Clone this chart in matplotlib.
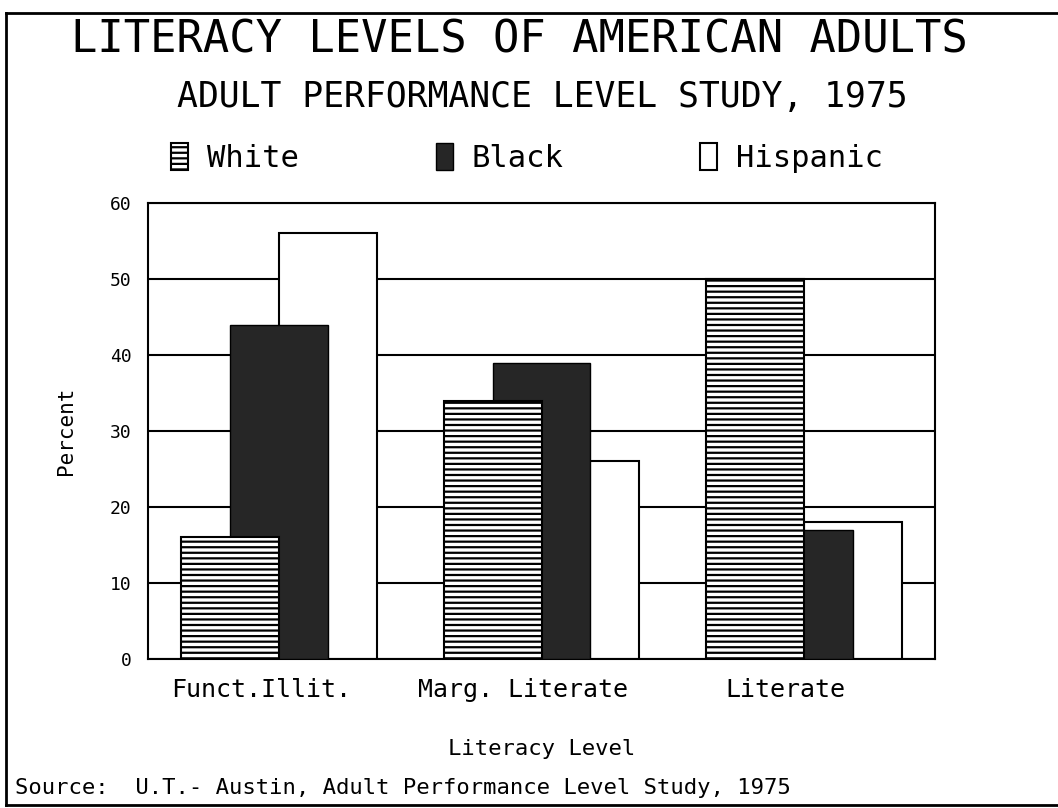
import matplotlib.pyplot as plt
from matplotlib.lines import Line2D
import numpy as np

categories = ['Funct.Illit.', 'Marg. Literate', 'Literate']
groups = ['White', 'Black', 'Hispanic']
white = [16, 34, 50]
black = [44, 39, 17]
hispanic = [56, 26, 18]
yticks = [0, 10, 20, 30, 40, 50, 60]

plt.rcParams['font.family'] = 'DejaVu Sans Mono'
plt.rcParams['hatch.linewidth'] = 1.6
plt.rcParams['hatch.color'] = 'black'

fig = plt.figure(figsize=(10.58, 8.08), dpi=100)
ax = fig.add_axes([148 / 1058, 1 - 659 / 808, 787 / 1058, 456 / 808])

x = np.arange(len(categories))
w = 0.373
off = 0.186

# draw order: Hispanic at the back, then Black, then White on top
b_h = ax.bar(x + off, hispanic, w, color='white', edgecolor='black', linewidth=1.5, zorder=2)
b_b = ax.bar(x, black, w, color='#262626', edgecolor='black', linewidth=1.0, zorder=3)
b_w = ax.bar(x - off, white, w, color='white', edgecolor='black', linewidth=1.5,
             hatch='---', zorder=4)

ax.set_xlim(-0.5, 2.5)
ax.set_ylim(0, 60)
ax.set_yticks(yticks)
ax.set_yticklabels([str(t) for t in yticks], fontsize=13)
ax.yaxis.grid(True, color='black', linewidth=1.5, zorder=0)
ax.set_axisbelow(True)
ax.tick_params(axis='y', length=0, pad=12)
ax.tick_params(axis='x', length=0, pad=14)
ax.set_xticks(x - 0.07)
ax.set_xticklabels(categories, fontsize=18)
for s in ax.spines.values():
    s.set_linewidth(1.5)

ax.set_ylabel('Percent', fontsize=15, labelpad=24)
ax.set_xlabel('Literacy Level', fontsize=16, labelpad=26)

fig.text(519 / 1058, 1 - 40 / 808, 'LITERACY LEVELS OF AMERICAN ADULTS',
         ha='center', va='center', fontsize=31.5)
fig.text(542 / 1058, 1 - 97 / 808, 'ADULT PERFORMANCE LEVEL STUDY, 1975',
         ha='center', va='center', fontsize=25)

fig.legend([b_w[0], b_b[0], b_h[0]], groups, loc='center',
           bbox_to_anchor=(527 / 1058, 1 - 158 / 808), ncol=3, frameon=False,
           fontsize=22, handlelength=0.55, handleheight=1.0, handletextpad=0.6,
           columnspacing=4.5)

fig.text(15 / 1058, 1 - 788 / 808,
         'Source:  U.T.- Austin, Adult Performance Level Study, 1975',
         ha='left', va='center', fontsize=16)

# outer frame (left, top, bottom)
fig.add_artist(Line2D([6 / 1058, 6 / 1058], [1 - 805 / 808, 1 - 13 / 808],
                      color='black', linewidth=2, transform=fig.transFigure))
fig.add_artist(Line2D([6 / 1058, 1], [1 - 13 / 808, 1 - 13 / 808],
                      color='black', linewidth=2, transform=fig.transFigure))
fig.add_artist(Line2D([6 / 1058, 1], [1 - 805 / 808, 1 - 805 / 808],
                      color='black', linewidth=2, transform=fig.transFigure))

fig.savefig('out.png', dpi=100)
